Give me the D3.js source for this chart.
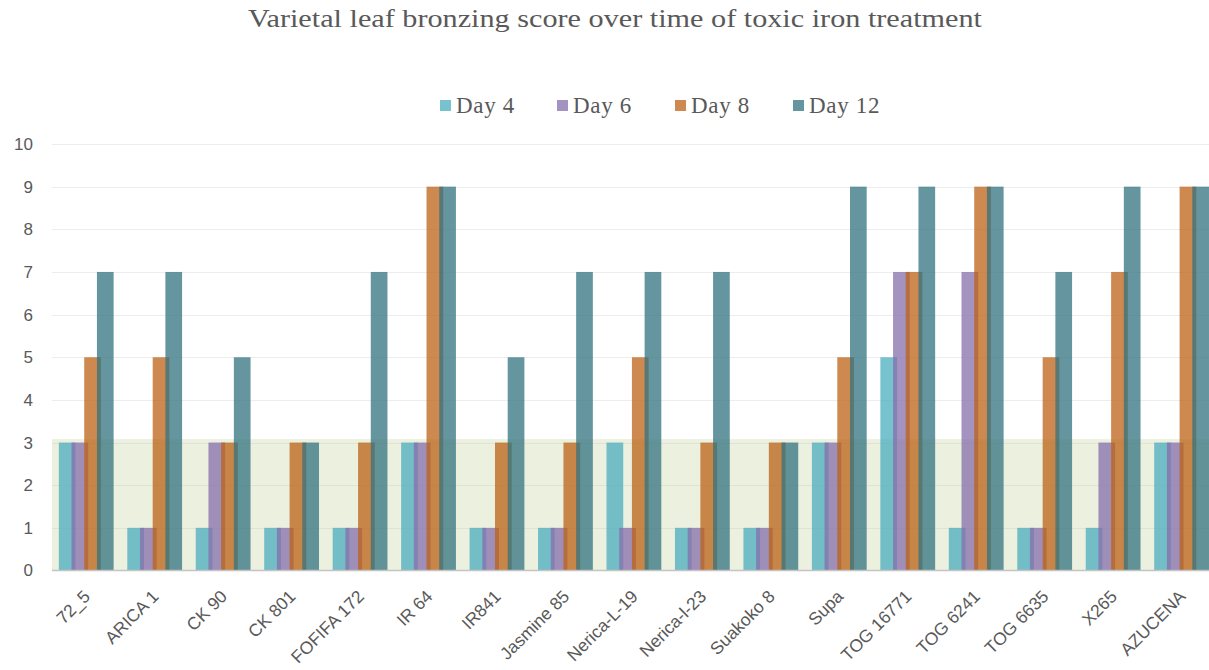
<!DOCTYPE html>
<html>
<head>
<meta charset="utf-8">
<script src="https://cdn.jsdelivr.net/npm/d3@7"></script>
<style>
  html, body { margin: 0; padding: 0; background: #fff; }
  svg { display: block; }
</style>
</head>
<body>
<svg id="chart" width="1209" height="670"></svg>
<script>
// Varieties tested
const categories = ["72_5", "ARICA 1", "CK 90", "CK 801", "FOFIFA 172", "IR 64", "IR841",
  "Jasmine 85", "Nerica-L-19", "Nerica-l-23", "Suakoko 8", "Supa", "TOG 16771",
  "TOG 6241", "TOG 6635", "X265", "AZUCENA"];

// Leaf bronzing scores per observation day
const day4  = [3, 1, 1, 1, 1, 3, 1, 1, 3, 1, 1, 3, 5, 1, 1, 1, 3];
const day6  = [3, 1, 3, 1, 1, 3, 1, 1, 1, 1, 1, 3, 7, 7, 1, 3, 3];
const day8  = [5, 5, 3, 3, 3, 9, 3, 3, 5, 3, 3, 5, 7, 9, 5, 7, 9];
const day12 = [7, 7, 5, 3, 7, 9, 5, 7, 7, 7, 3, 9, 9, 9, 7, 9, 9];

const seriesNames = ["Day 4", "Day 6", "Day 8", "Day 12"];
const seriesValues = [day4, day6, day8, day12];
const yTicks = [0, 1, 2, 3, 4, 5, 6, 7, 8, 9, 10];

// Upper limit of the shaded tolerance zone (score scale)
const toleranceLimit = 3.08;

const colors = ["#4BACBE", "#866EAB", "#BC6216", "#327380"];
const barOpacity = 0.75;

const svg = d3.select("#chart");

const plotLeft = 52, plotTop = 144, plotBottom = 570.5;
const bandW = 68.46;
const plotRight = plotLeft + bandW * categories.length;

const x0 = d3.scaleBand().domain(categories).range([plotLeft, plotRight]).padding(0);
const y = d3.scaleLinear().domain([0, 10]).range([plotBottom, plotTop]);

// Title
svg.append("text")
  .attr("x", 248).attr("y", 27)
  .attr("text-anchor", "start")
  .attr("textLength", 734)
  .attr("lengthAdjust", "spacingAndGlyphs")
  .attr("font-family", "'Liberation Serif', 'Times New Roman', serif")
  .attr("font-size", 25)
  .attr("fill", "#595959")
  .text("Varietal leaf bronzing score over time of toxic iron treatment");

// Legend
const legendX = [440, 557, 675, 793];
const legend = svg.append("g");
seriesNames.forEach((name, i) => {
  legend.append("rect")
    .attr("x", legendX[i]).attr("y", 100)
    .attr("width", 11).attr("height", 11)
    .attr("fill", colors[i]).attr("fill-opacity", barOpacity);
  legend.append("text")
    .attr("x", legendX[i] + 16).attr("y", 113)
    .attr("font-family", "'Liberation Serif', 'Times New Roman', serif")
    .attr("font-size", 23)
    .attr("letter-spacing", 0.7)
    .attr("fill", "#595959")
    .text(name);
});

// Shaded tolerance band
svg.append("rect")
  .attr("x", plotLeft).attr("y", y(toleranceLimit))
  .attr("width", plotRight - plotLeft)
  .attr("height", y(0) - y(toleranceLimit))
  .attr("fill", "#ECF0DF");

// Gridlines
svg.append("g")
  .selectAll("line")
  .data(yTicks.filter(t => t > 0))
  .join("line")
  .attr("x1", plotLeft).attr("x2", plotRight)
  .attr("y1", d => Math.round(y(d)) + 0.5).attr("y2", d => Math.round(y(d)) + 0.5)
  .attr("stroke", d => d <= 3 ? "#DFE3D4" : "#EDEDED")
  .attr("stroke-width", 1.2);

// Y axis labels
const yAxis = d3.axisLeft(y).tickValues(yTicks).tickSize(0).tickPadding(0);
const yg = svg.append("g").attr("transform", "translate(33,0)").call(yAxis);
yg.select(".domain").remove();
yg.selectAll("text")
  .attr("font-family", "'Liberation Sans', Arial, sans-serif")
  .attr("font-size", 17)
  .attr("fill", "#595959");

// Bars: four overlapping semi-transparent bars per variety
const barW = 16.7, step = 12.7;
const clusterW = step * 3 + barW;
const groups = svg.append("g")
  .selectAll("g")
  .data(categories)
  .join("g")
  .attr("transform", d => `translate(${x0(d) + (x0.bandwidth() - clusterW) / 2},0)`);

groups.selectAll("rect")
  .data((d, ci) => seriesValues.map((vals, si) => ({ si, v: vals[ci] })))
  .join("rect")
  .attr("x", d => d.si * step)
  .attr("y", d => y(d.v))
  .attr("width", barW)
  .attr("height", d => y(0) - y(d.v))
  .attr("fill", d => colors[d.si])
  .attr("fill-opacity", barOpacity);

// X axis line
svg.append("line")
  .attr("x1", plotLeft).attr("x2", plotRight)
  .attr("y1", plotBottom).attr("y2", plotBottom)
  .attr("stroke", "#C4C4C4").attr("stroke-width", 1.5);

// Category labels, rotated
const xAxis = d3.axisBottom(x0).tickSize(0).tickPadding(0);
const xg = svg.append("g").attr("transform", `translate(0,${plotBottom})`).call(xAxis);
xg.select(".domain").remove();
xg.selectAll("text")
  .attr("font-family", "'Liberation Sans', Arial, sans-serif")
  .attr("font-size", 17.5)
  .attr("fill", "#595959")
  .attr("text-anchor", "end")
  .attr("dy", null)
  .attr("y", null)
  .attr("transform", "translate(5,27) rotate(-45)");
</script>
</body>
</html>
